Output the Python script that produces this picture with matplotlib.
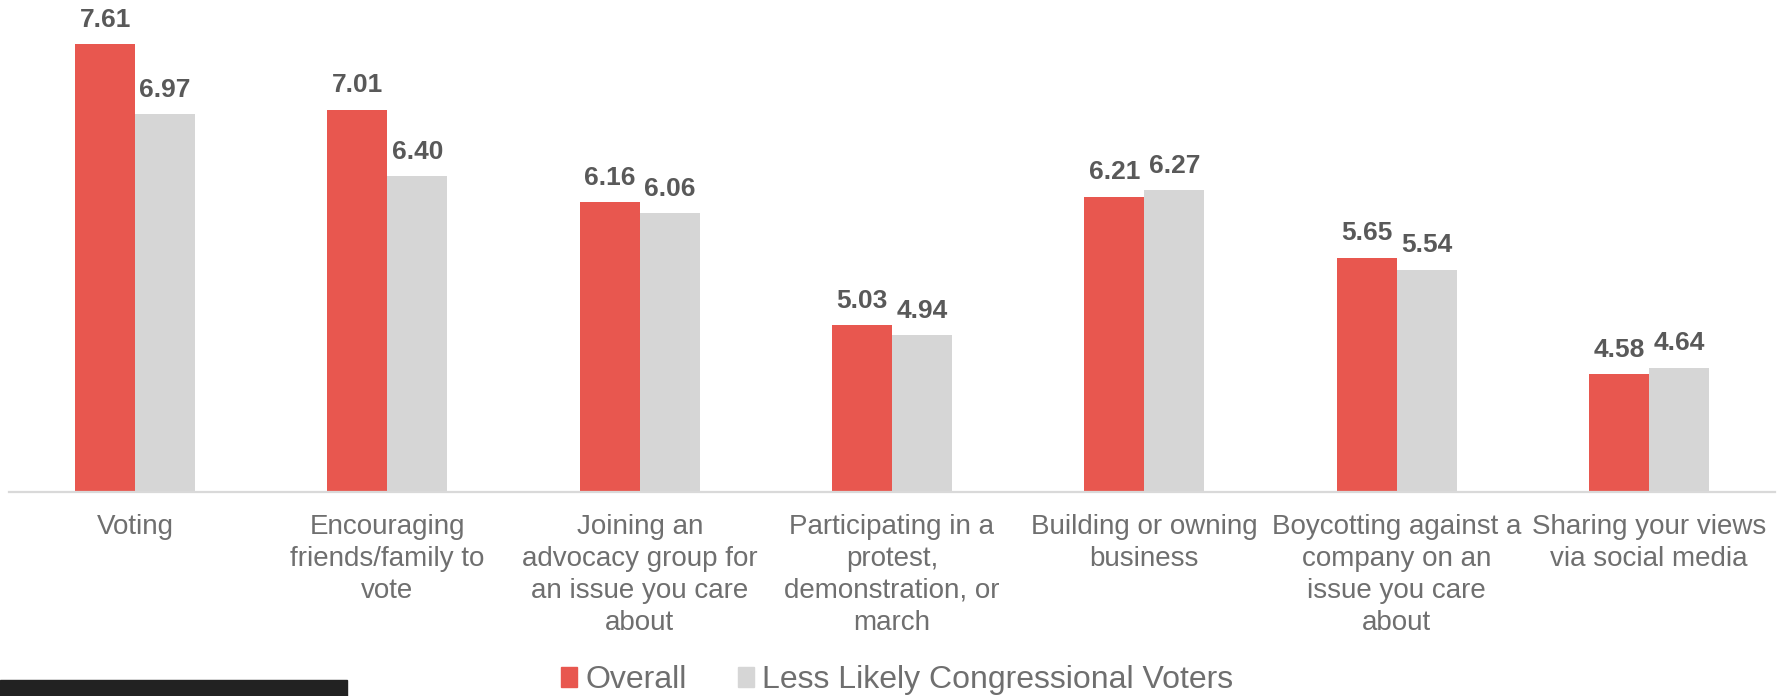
import matplotlib.pyplot as plt
import numpy as np
from matplotlib.patches import Patch, Rectangle

plt.rcParams['font.family'] = ['Liberation Sans', 'DejaVu Sans']

categories = [
    "Voting",
    "Encouraging\nfriends/family to\nvote",
    "Joining an\nadvocacy group for\nan issue you care\nabout",
    "Participating in a\nprotest,\ndemonstration, or\nmarch",
    "Building or owning\nbusiness",
    "Boycotting against a\ncompany on an\nissue you care\nabout",
    "Sharing your views\nvia social media",
]
overall = [7.61, 7.01, 6.16, 5.03, 6.21, 5.65, 4.58]
less_likely = [6.97, 6.40, 6.06, 4.94, 6.27, 5.54, 4.64]
series_names = ["Overall", "Less Likely Congressional Voters"]

RED = "#E8574F"
GREY = "#D6D6D6"
W, H = 1783, 696

fig = plt.figure(figsize=(W / 100, H / 100), dpi=100)
ax = fig.add_axes([9 / W, 1 - 492 / H, (1775 - 9) / W, (492 - 6) / H])

x = np.arange(len(categories))
bw = 0.238
b1 = ax.bar(x - bw / 2, overall, bw, color=RED)
b2 = ax.bar(x + bw / 2, less_likely, bw, color=GREY)

for bars, vals in ((b1, overall), (b2, less_likely)):
    for rect, v in zip(bars, vals):
        ax.annotate(f"{v:.2f}", (rect.get_x() + rect.get_width() / 2, v),
                    xytext=(0, 12.5), textcoords="offset points",
                    ha="center", va="baseline", fontsize=19,
                    fontweight="bold", color="#595959", annotation_clip=False)

ax.set_xlim(-0.5, len(categories) - 0.5)
ax.set_ylim(3.5, 7.96)
ax.set_yticks([])
for s in ("top", "right", "left"):
    ax.spines[s].set_visible(False)
ax.spines["bottom"].set_color("#D9D9D9")
ax.spines["bottom"].set_linewidth(1.6)
ax.set_xticks(x)
ax.set_xticklabels(categories, fontsize=20, color="#6F6F6F", linespacing=1.29)
ax.tick_params(axis="x", length=0, pad=16)

handles = [Patch(color=RED), Patch(color=GREY)]
fig.legend(handles, series_names, loc="center", bbox_to_anchor=(897 / W, 1 - 680 / H),
           frameon=False, fontsize=23, labelcolor="#6F6F6F", ncol=2,
           handlelength=0.5, handleheight=0.6, handletextpad=0.25,
           columnspacing=1.6, borderpad=0)

fig.patches.append(Rectangle((0, 0), 347 / W, 16 / H, transform=fig.transFigure,
                             color="#222222"))

fig.savefig("out.png", dpi=100)
